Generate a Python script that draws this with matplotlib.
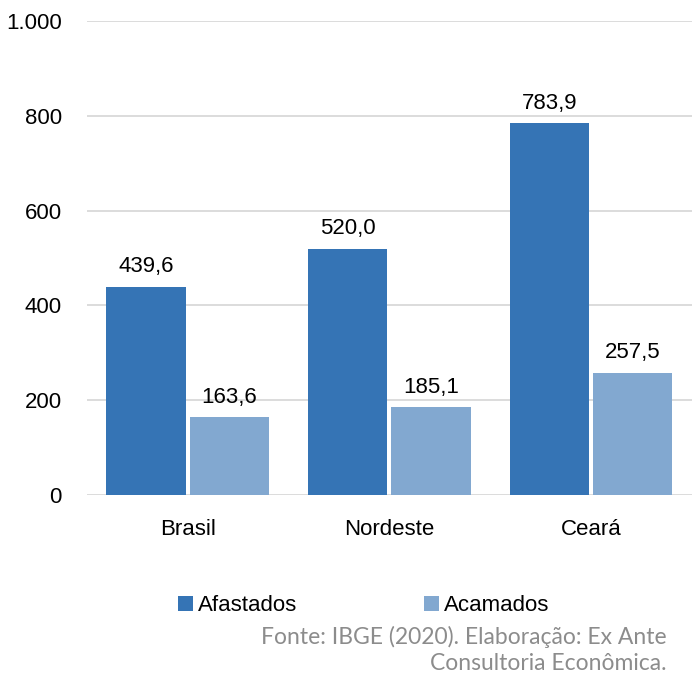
import matplotlib.pyplot as plt
import numpy as np

plt.rcParams['font.family'] = ['Liberation Sans', 'DejaVu Sans']

categories = ['Brasil', 'Nordeste', 'Ceará']
afastados = [439.6, 520.0, 783.9]
acamados = [163.6, 185.1, 257.5]
yticks = [0, 200, 400, 600, 800, 1000]
ytick_labels = ['0', '200', '400', '600', '800', '1.000']

c_afast = '#3574B5'
c_acam = '#82A8D0'
fs = 16

fig = plt.figure(figsize=(6.92, 6.79), dpi=100)
ax = fig.add_axes([0.1257, 0.271, 0.874, 0.698])

x = np.arange(len(categories))
w = 0.394
off = w / 2 + 0.01
b1 = ax.bar(x - off, afastados, w, color=c_afast, label='Afastados', zorder=3)
b2 = ax.bar(x + off, acamados, w, color=c_acam, label='Acamados', zorder=3)

fmt = lambda v: f'{v:.1f}'.replace('.', ',')
for bars, vals in [(b1, afastados), (b2, acamados)]:
    for r, v in zip(bars, vals):
        ax.annotate(fmt(v), (r.get_x() + r.get_width() / 2, v),
                    xytext=(0, 7), textcoords='offset points',
                    ha='center', va='bottom', fontsize=fs)

ax.set_xlim(-0.5, 2.5)
ax.set_ylim(0, 1000)
ax.set_yticks(yticks)
ax.set_yticklabels(ytick_labels)
ax.set_xticks(x)
ax.set_xticklabels(categories)
ax.tick_params(axis='y', length=0, pad=18, labelsize=fs)
ax.tick_params(axis='x', length=0, pad=17, labelsize=fs)
ax.yaxis.grid(True, color='#D9D9D9', linewidth=1.3, zorder=0)
ax.set_axisbelow(True)
for s in ax.spines.values():
    s.set_visible(False)

leg = fig.legend(handles=[b1, b2], loc='center left', bbox_to_anchor=(0.228, 0.108),
                 ncol=2, frameon=False, fontsize=fs, handlelength=0.7,
                 handleheight=0.7, handletextpad=0.2, columnspacing=5.7)

fig.text(0.963, 0.043, 'Fonte: IBGE (2020). Elaboração: Ex Ante\nConsultoria Econômica.',
         ha='right', va='center', fontsize=16.5, color='#8C8C8C', linespacing=1.28,
         family=['Lato', 'DejaVu Sans'])

fig.savefig('out.png', dpi=100)
